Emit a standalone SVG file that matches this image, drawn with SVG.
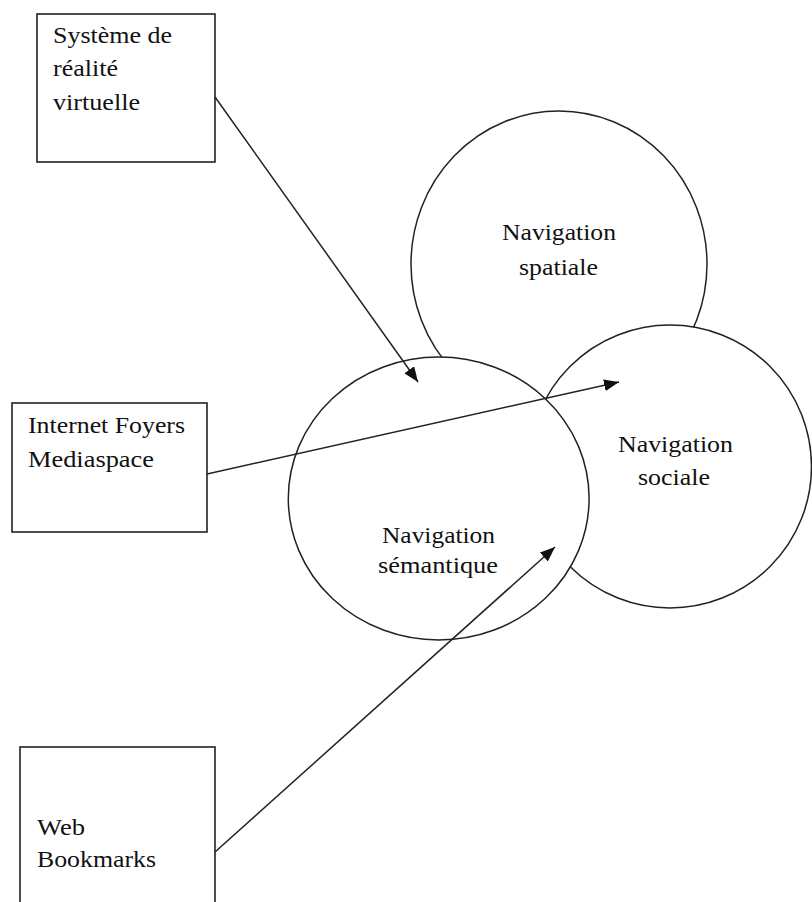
<svg xmlns="http://www.w3.org/2000/svg" width="812" height="902" viewBox="0 0 812 902">
<style>
.box{fill:#fff;stroke:#222;stroke-width:1.6}
.circ{fill:#fff;stroke:#222;stroke-width:1.5}
.lbl{font-family:"Liberation Serif","Times New Roman",serif;font-size:23.5px;fill:#111}
.mid{text-anchor:middle}
.conn{stroke:#222;stroke-width:1.5;fill:none;marker-end:url(#ah)}
</style>
<defs>
<marker id="ah" markerWidth="16" markerHeight="12" refX="15" refY="6" orient="auto" markerUnits="userSpaceOnUse">
<path d="M0,0 L15,6 L0,12 Z" fill="#111"/>
</marker>
</defs>
<g id="node-spatiale">
<ellipse class="circ" cx="559" cy="264" rx="148" ry="153"/>
<text class="lbl mid" x="559" y="240" textLength="114" lengthAdjust="spacingAndGlyphs">Navigation</text>
<text class="lbl mid" x="558.5" y="275" textLength="79" lengthAdjust="spacingAndGlyphs">spatiale</text>
</g>
<g id="node-sociale">
<circle class="circ" cx="670" cy="466.5" r="141.5"/>
<text class="lbl mid" x="675.5" y="452" textLength="115" lengthAdjust="spacingAndGlyphs">Navigation</text>
<text class="lbl mid" x="674" y="485" textLength="72" lengthAdjust="spacingAndGlyphs">sociale</text>
</g>
<g id="node-semantique">
<ellipse class="circ" cx="438.7" cy="498.5" rx="150.4" ry="141.5"/>
<text class="lbl mid" x="438.5" y="543" textLength="113" lengthAdjust="spacingAndGlyphs">Navigation</text>
<text class="lbl mid" x="438" y="573" textLength="120" lengthAdjust="spacingAndGlyphs">sémantique</text>
</g>
<g id="node-realite">
<rect class="box" x="37" y="14" width="178" height="148"/>
<text class="lbl" x="53" y="43" textLength="119" lengthAdjust="spacingAndGlyphs">Système de</text>
<text class="lbl" x="53" y="76" textLength="65" lengthAdjust="spacingAndGlyphs">réalité</text>
<text class="lbl" x="53" y="110" textLength="87" lengthAdjust="spacingAndGlyphs">virtuelle</text>
</g>
<g id="node-internet">
<rect class="box" x="12" y="403" width="195" height="129"/>
<text class="lbl" x="28" y="433" textLength="157" lengthAdjust="spacingAndGlyphs">Internet Foyers</text>
<text class="lbl" x="28" y="467" textLength="126" lengthAdjust="spacingAndGlyphs">Mediaspace</text>
</g>
<g id="node-web">
<rect class="box" x="20" y="747" width="195" height="170"/>
<text class="lbl" x="37" y="835" textLength="48" lengthAdjust="spacingAndGlyphs">Web</text>
<text class="lbl" x="37" y="867" textLength="119" lengthAdjust="spacingAndGlyphs">Bookmarks</text>
</g>
<g id="connectors">
<line class="conn" x1="215" y1="97" x2="418" y2="382"/>
<line class="conn" x1="207" y1="474" x2="619" y2="382"/>
<line class="conn" x1="215" y1="852" x2="555" y2="547"/>
</g>
</svg>
